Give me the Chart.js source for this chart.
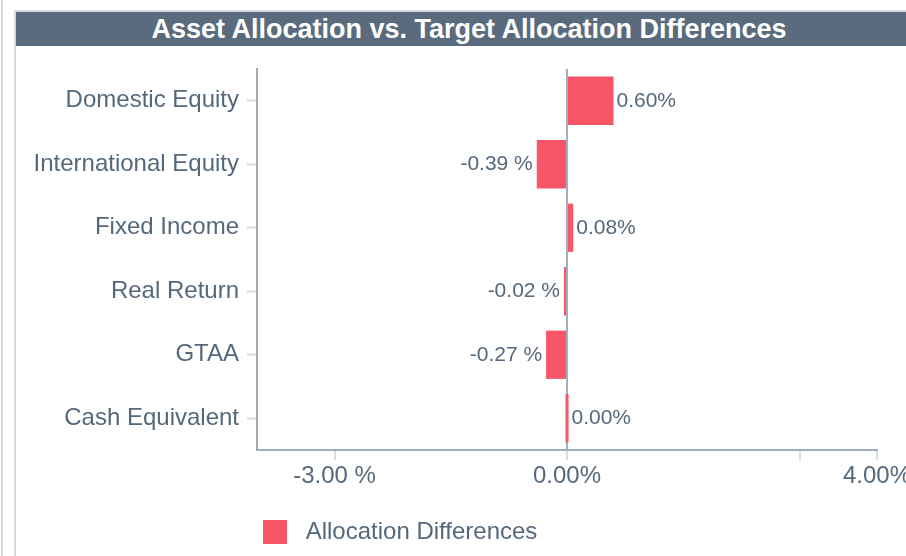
<!DOCTYPE html>
<html>
<head>
<meta charset="utf-8">
<script src="https://cdn.jsdelivr.net/npm/chart.js@4"></script>
<style>
  body { margin: 0; width: 906px; height: 556px; overflow: hidden; background: #fff; position: relative; font-family: "Liberation Sans", Arial, sans-serif; }
  .edge { position: absolute; left: 1px; top: 0; width: 2px; height: 556px; background: #d3d9e0; }
  .frame { position: absolute; left: 14px; top: 10px; width: 1000px; height: 600px; border-left: 2px solid #d3d9e0; border-top: 2px solid #d3d9e0; }
  .title { position: absolute; left: 16px; top: 12px; width: 906px; height: 34px; line-height: 34px; background: #596b7c; color: #fff; font-weight: bold; font-size: 27px; text-align: center; }
  #wrap { position: absolute; left: 16px; top: 46px; }
</style>
</head>
<body>
<div class="edge"></div>
<div class="frame"></div>
<div class="title">Asset Allocation vs. Target Allocation Differences</div>
<div id="wrap"><canvas id="BarChart" width="904" height="510"></canvas></div>
<script>
// chart data
const categories = ['Domestic Equity', 'International Equity', 'Fixed Income', 'Real Return', 'GTAA', 'Cash Equivalent'];
const differences = [0.60, -0.39, 0.08, -0.02, -0.27, 0.00];
const tickValues = [-3, 0, 3, 4];
const seriesName = 'Allocation Differences';

const textColor = '#56687b';
const barColor = '#f85566';

function pct(v) {
    // negatives get a space before the % sign, like the original
    return v < 0 ? v.toFixed(2) + ' %' : v.toFixed(2) + '%';
}

// value labels at the end of each bar
const barLabels = {
    id: 'barLabels',
    afterDatasetsDraw(chart) {
        const ctx = chart.ctx;
        const meta = chart.getDatasetMeta(0);
        ctx.save();
        ctx.font = '21px "Liberation Sans", Arial, sans-serif';
        ctx.fillStyle = textColor;
        ctx.textBaseline = 'middle';
        meta.data.forEach((bar, i) => {
            const v = differences[i];
            if (v < 0) {
                ctx.textAlign = 'right';
                ctx.fillText(pct(v), Math.min(bar.x, bar.base) - 4, bar.y);
            } else {
                ctx.textAlign = 'left';
                ctx.fillText(pct(v), Math.max(bar.x, bar.base) + 3, bar.y);
            }
        });
        ctx.restore();
    }
};

// move the legend to sit under the left part of the plot
const legendShift = {
    id: 'legendShift',
    afterLayout(chart) {
        const lg = chart.legend;
        const w = lg.right - lg.left;
        lg.left = 237;
        lg.right = 237 + w;
    }
};

let myChart = document.getElementById('BarChart').getContext('2d');

let allocChart = new Chart(myChart, {
    type: 'bar',
    data: {
        labels: categories,
        datasets: [{
            label: seriesName,
            data: differences,
            backgroundColor: barColor,
            borderWidth: 0,
            barPercentage: 0.76,
            categoryPercentage: 1,
            minBarLength: 3
        }]
    },
    options: {
        indexAxis: 'y',
        responsive: false,
        animation: false,
        layout: { padding: { top: 23, right: 43, bottom: 2, left: 0 } },
        plugins: {
            tooltip: { enabled: false },
            legend: {
                position: 'bottom',
                align: 'start',
                labels: {
                    boxWidth: 24,
                    boxHeight: 24,
                    padding: 10,
                    color: textColor,
                    font: { size: 24, family: '"Liberation Sans", Arial, sans-serif' },
                    generateLabels(chart) {
                        const items = Chart.defaults.plugins.legend.labels.generateLabels(chart);
                        return items.map(it => Object.assign(it, { text: ' ' + it.text }));
                    }
                }
            }
        },
        scales: {
            x: {
                min: -4,
                max: 4,
                afterBuildTicks(scale) {
                    scale.ticks = tickValues.map(v => ({ value: v }));
                },
                afterFit(scale) { scale.height = 60; },
                border: { color: '#a0acb8', width: 2 },
                grid: {
                    color: c => (c.tick && c.tick.value === 0) ? '#a4aebb' : 'rgba(0,0,0,0)',
                    lineWidth: 2,
                    tickColor: '#d9dee4',
                    tickWidth: 2,
                    tickLength: 10
                },
                ticks: {
                    autoSkip: false,
                    maxRotation: 0,
                    padding: 2,
                    color: textColor,
                    font: { size: 24, family: '"Liberation Sans", Arial, sans-serif' },
                    callback: v => v === 3 ? '' : pct(v)
                }
            },
            y: {
                afterFit(scale) { scale.width = 241; },
                border: { color: '#a0acb8', width: 2 },
                grid: {
                    offset: false,
                    drawOnChartArea: false,
                    tickColor: '#d9dee4',
                    tickWidth: 2,
                    tickLength: 10
                },
                ticks: {
                    padding: 8,
                    color: textColor,
                    font: { size: 24, family: '"Liberation Sans", Arial, sans-serif' }
                }
            }
        }
    },
    plugins: [barLabels, legendShift]
});
</script>
</body>
</html>
